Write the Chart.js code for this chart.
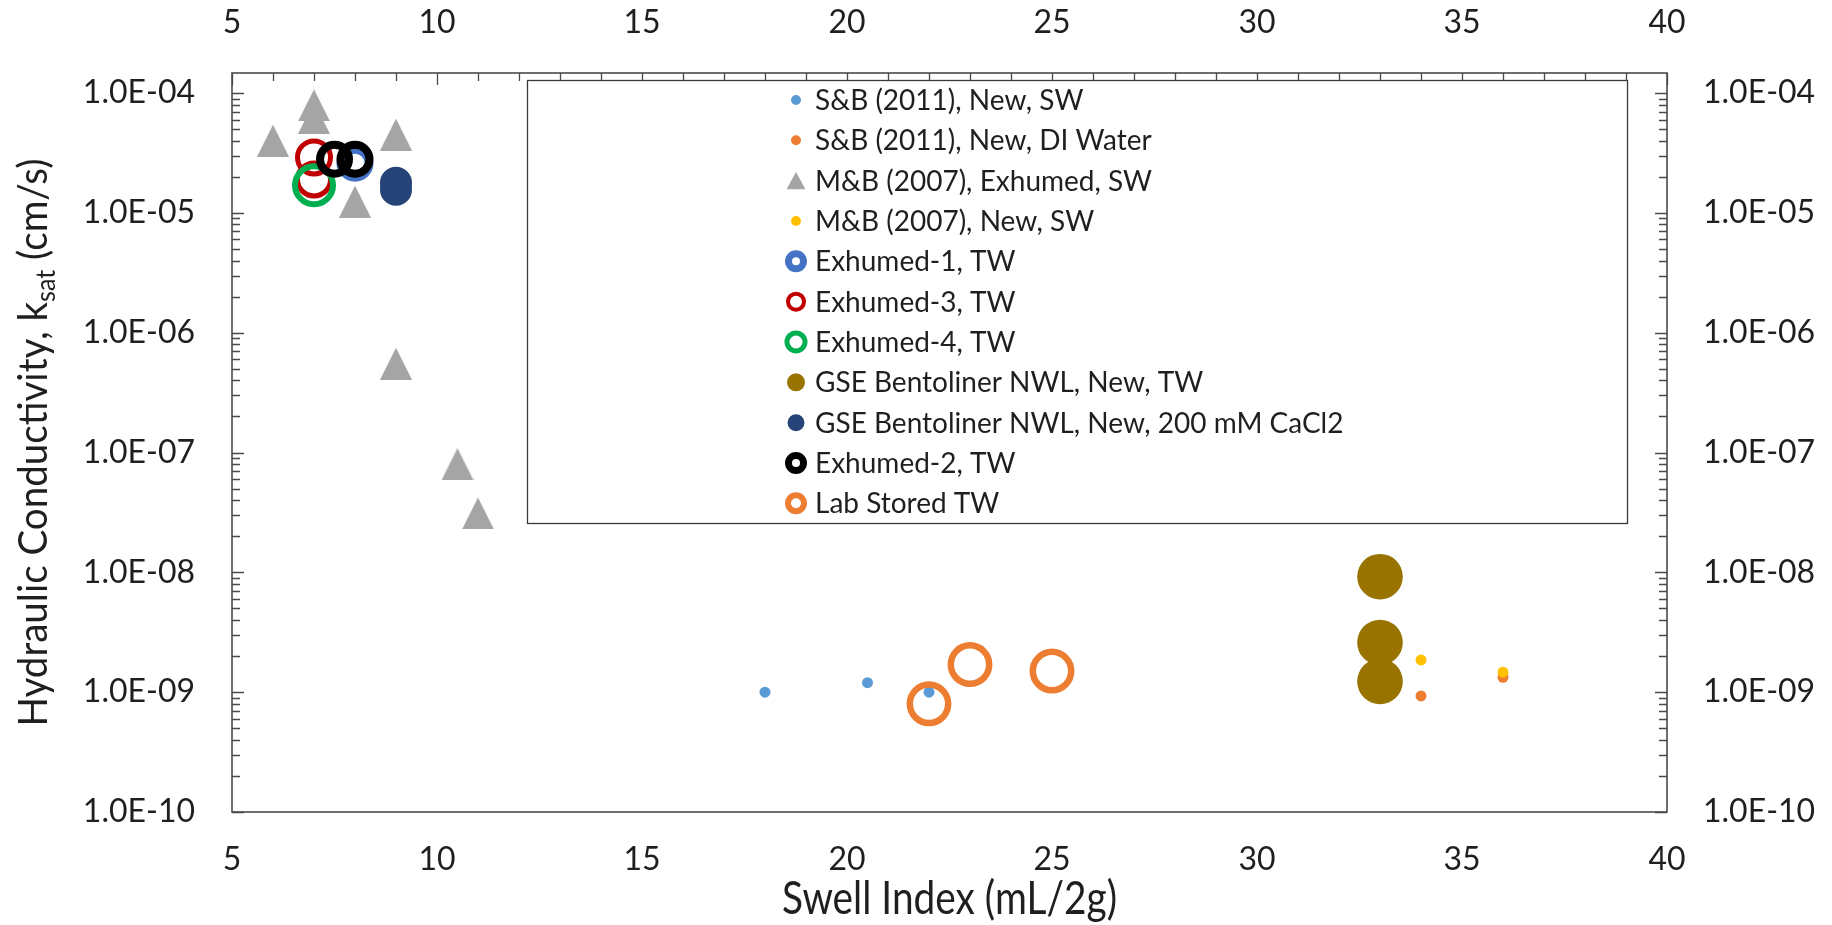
<!DOCTYPE html>
<html>
<head>
<meta charset="utf-8">
<title>Swell Index vs Hydraulic Conductivity</title>
<script src="https://cdn.jsdelivr.net/npm/chart.js@4.4.1/dist/chart.umd.min.js"></script>
<style>
  html, body { margin: 0; padding: 0; background: #fff; }
  #wrap { width: 1832px; height: 925px; }
</style>
</head>
<body>
<div id="wrap"><canvas id="chart" width="1832" height="925"></canvas></div>
<script>
// ── Data ──────────────────────────────────────────────────────────────
// Swell index (mL/2g) against saturated hydraulic conductivity (cm/s).
const xTicks = [5, 10, 15, 20, 25, 30, 35, 40];
const kTicks = [1e-10, 1e-9, 1e-8, 1e-7, 1e-6, 1e-5, 1e-4];

const sbSwX = [18, 20.5, 22];
const sbSwK = [1.0e-9, 1.2e-9, 1.0e-9];

const sbDiX = [34, 36];
const sbDiK = [9.3e-10, 1.33e-9];

const mbExhX = [6, 7, 7, 8, 9, 9, 10.5, 11];
const mbExhK = [4.0e-5, 7.9e-5, 6.2e-5, 1.24e-5, 4.5e-5, 5.5e-7, 8.0e-8, 3.1e-8];

const mbNewX = [34, 36];
const mbNewK = [1.86e-9, 1.47e-9];

const exh1X = [8];
const exh1K = [2.6e-5];

const exh3X = [7, 7];
const exh3K = [2.9e-5, 1.9e-5];

const exh4X = [7];
const exh4K = [1.7e-5];

const gseTwX = [33, 33, 33];
const gseTwK = [9.2e-9, 2.6e-9, 1.23e-9];

const gseCaX = [9, 9];
const gseCaK = [1.78e-5, 1.56e-5];

const exh2X = [7.5, 8];
const exh2K = [2.8e-5, 2.8e-5];

const labX = [22, 23, 25];
const labK = [8.0e-10, 1.7e-9, 1.5e-9];

// ── Series styling ────────────────────────────────────────────────────
// r / bw = marker radius and ring width on the plot, lr / lbw = in the legend
const series = [
  { name: "S&B (2011), New, SW", x: sbSwX, k: sbSwK, color: "#5B9BD5", filled: true, r: 5.5, lr: 5 },
  { name: "S&B (2011), New, DI Water", x: sbDiX, k: sbDiK, color: "#ED7D31", filled: true, r: 5.5, lr: 5 },
  { name: "M&B (2007), Exhumed, SW", x: mbExhX, k: mbExhK, color: "#A5A5A5", triangle: true, r: 16, lr: 9 },
  { name: "M&B (2007), New, SW", x: mbNewX, k: mbNewK, color: "#FFC000", filled: true, r: 5.5, lr: 5 },
  { name: "Exhumed-1, TW", x: exh1X, k: exh1K, color: "#4472C4", r: 14, bw: 9, lr: 7.5, lbw: 7 },
  { name: "Exhumed-3, TW", x: exh3X, k: exh3K, color: "#C00000", r: 16.5, bw: 5, lr: 8, lbw: 4 },
  { name: "Exhumed-4, TW", x: exh4X, k: exh4K, color: "#00B050", r: 19, bw: 6, lr: 9, lbw: 5 },
  { name: "GSE Bentoliner NWL, New, TW", x: gseTwX, k: gseTwK, color: "#997300", filled: true, r: 22.8, lr: 9 },
  { name: "GSE Bentoliner NWL, New, 200 mM CaCl2", x: gseCaX, k: gseCaK, color: "#264478", filled: true, r: 16, lr: 8.5 },
  { name: "Exhumed-2, TW", x: exh2X, k: exh2K, color: "#000000", r: 14.5, bw: 8, lr: 7.5, lbw: 7 },
  { name: "Lab Stored TW", x: labX, k: labK, color: "#ED7D31", r: 19.2, bw: 6.5, lr: 8, lbw: 6 },
];

const FONT = "Lato";
const INK = "#1f1f1f";

function triangleMarker(w, h, color) {
  const c = document.createElement("canvas");
  c.width = w;
  c.height = h;
  const g = c.getContext("2d");
  g.fillStyle = color;
  g.beginPath();
  g.moveTo(w / 2, 0);
  g.lineTo(w, h);
  g.lineTo(0, h);
  g.closePath();
  g.fill();
  return c;
}

// 1e-5 -> "1.0E-05"
function sci(v) {
  const [m, e] = v.toExponential(1).split("e");
  const n = Number(e);
  return m + "E" + (n < 0 ? "-" : "+") + String(Math.abs(n)).padStart(2, "0");
}

function drawMarker(ctx, s, x, y, r, bw) {
  ctx.save();
  if (s.triangle) {
    const w = r * 2.1, h = r * 1.9;
    ctx.fillStyle = s.color;
    ctx.beginPath();
    ctx.moveTo(x, y - h / 2);
    ctx.lineTo(x + w / 2, y + h / 2);
    ctx.lineTo(x - w / 2, y + h / 2);
    ctx.closePath();
    ctx.fill();
  } else if (s.filled) {
    ctx.fillStyle = s.color;
    ctx.beginPath();
    ctx.arc(x, y, r, 0, Math.PI * 2);
    ctx.fill();
  } else {
    ctx.strokeStyle = s.color;
    ctx.lineWidth = bw;
    ctx.beginPath();
    ctx.arc(x, y, r, 0, Math.PI * 2);
    ctx.stroke();
  }
  ctx.restore();
}

// ── Plot frame and inward ticks (log minors on both sides, units on top)
const framePlugin = {
  id: "frame",
  beforeDatasetsDraw(chart) {
    const { ctx, chartArea: a, scales } = chart;
    ctx.save();
    ctx.strokeStyle = "#4a4a4a";
    ctx.lineWidth = 1.3;
    ctx.beginPath();
    const ys = scales.y;
    kTicks.forEach((v) => {
      for (let m = 1; m <= 9; m++) {
        const val = v * m;
        if (val > ys.max) break;
        const py = Math.round(ys.getPixelForValue(val)) + 0.5;
        const len = m === 1 ? 12 : 8;
        ctx.moveTo(a.left, py);
        ctx.lineTo(a.left + len, py);
        ctx.moveTo(a.right, py);
        ctx.lineTo(a.right - len, py);
      }
    });
    const xs = scales.x2;
    for (let v = xs.min; v <= xs.max; v++) {
      const px = Math.round(xs.getPixelForValue(v)) + 0.5;
      ctx.moveTo(px, a.top);
      ctx.lineTo(px, a.top + (v % 5 === 0 ? 12 : 8));
    }
    ctx.stroke();
    ctx.lineWidth = 1.6;
    ctx.strokeRect(a.left, a.top, a.right - a.left, a.bottom - a.top);
    ctx.restore();
  },
};

// ── Boxed legend inside the plot area ─────────────────────────────────
const legendPlugin = {
  id: "boxLegend",
  afterDatasetsDraw(chart) {
    const { ctx } = chart;
    const box = { left: 527, top: 80, right: 1627, bottom: 523 };
    ctx.save();
    ctx.fillStyle = "#fff";
    ctx.fillRect(box.left, box.top, box.right - box.left, box.bottom - box.top);
    ctx.strokeStyle = "#3a3a3a";
    ctx.lineWidth = 1.3;
    ctx.strokeRect(box.left + 0.5, box.top + 0.5, box.right - box.left, box.bottom - box.top);
    ctx.font = "28px " + FONT;
    ctx.fillStyle = INK;
    ctx.textBaseline = "middle";
    ctx.textAlign = "left";
    series.forEach((s, i) => {
      const y = 100 + i * 40.33;
      drawMarker(ctx, s, 796, y, s.lr, s.lbw);
      ctx.fillStyle = INK;
      ctx.fillText(s.name, 815, y + 1);
    });
    ctx.restore();
  },
};

// ── Axis titles (condensed, y title carries the "sat" subscript) ──────
const titlePlugin = {
  id: "axisTitles",
  afterDraw(chart) {
    const { ctx, chartArea: a } = chart;
    ctx.save();
    ctx.fillStyle = INK;
    ctx.textBaseline = "alphabetic";

    // x title
    const xt = "Swell Index (mL/2g)";
    ctx.font = "46px " + FONT;
    const xw = ctx.measureText(xt).width;
    ctx.translate((a.left + a.right) / 2, 914);
    ctx.scale(335 / xw, 1);
    ctx.textAlign = "center";
    ctx.fillText(xt, 0, 0);
    ctx.restore();

    // y title
    ctx.save();
    ctx.fillStyle = INK;
    ctx.textBaseline = "alphabetic";
    ctx.textAlign = "left";
    const main = "Hydraulic Conductivity, k";
    const sub = "sat";
    const tail = " (cm/s)";
    const big = "40px " + FONT, small = "26px " + FONT;
    ctx.font = big;
    const w1 = ctx.measureText(main).width;
    const w3 = ctx.measureText(tail).width;
    ctx.font = small;
    const w2 = ctx.measureText(sub).width;
    const total = w1 + w2 + w3;
    ctx.translate(46.7, (a.top + a.bottom) / 2);
    ctx.rotate(-Math.PI / 2);
    ctx.scale(568 / total, 1);
    let x = -total / 2;
    ctx.font = big;
    ctx.fillText(main, x, 0);
    x += w1;
    ctx.font = small;
    ctx.fillText(sub, x, 8);
    x += w2;
    ctx.font = big;
    ctx.fillText(tail, x, 0);
    ctx.restore();
  },
};

function init() {
  const tickFont = { family: FONT, size: 32 };
  const datasets = series.map((s, i) => ({
    label: s.name,
    data: s.x.map((x, j) => ({ x, y: s.k[j] })),
    order: series.length - i,
    showLine: false,
    pointStyle: s.triangle ? triangleMarker(32, 32, s.color) : "circle",
    pointRadius: s.r,
    pointBorderWidth: s.filled || s.triangle ? 0 : s.bw,
    pointBackgroundColor: s.filled ? s.color : "rgba(0,0,0,0)",
    pointBorderColor: s.color,
  }));

  const logAxis = (position, width, padding) => ({
    type: "logarithmic",
    position,
    min: 1e-10,
    max: 1.47e-4,
    grid: { display: false, drawTicks: false },
    border: { display: false },
    afterBuildTicks: (scale) => {
      scale.ticks = kTicks.map((value) => ({ value }));
    },
    afterFit: (scale) => {
      scale.width = width;
    },
    ticks: {
      font: tickFont,
      color: INK,
      padding,
      autoSkip: false,
      callback: (v) => sci(v),
    },
  });

  const linAxis = (position, height, padding) => ({
    type: "linear",
    position,
    min: 5,
    max: 40,
    grid: { display: false, drawTicks: false },
    border: { display: false },
    afterBuildTicks: (scale) => {
      scale.ticks = xTicks.map((value) => ({ value }));
    },
    afterFit: (scale) => {
      scale.height = height;
    },
    ticks: {
      font: tickFont,
      color: INK,
      padding,
      autoSkip: false,
      maxRotation: 0,
    },
  });

  new Chart(document.getElementById("chart"), {
    type: "scatter",
    data: { datasets },
    options: {
      responsive: false,
      animation: false,
      devicePixelRatio: 1,
      events: [],
      layout: { padding: 0 },
      plugins: {
        legend: { display: false },
        tooltip: { enabled: false },
      },
      scales: {
        x: linAxis("bottom", 113, 28),
        x2: linAxis("top", 73, 31),
        y: logAxis("left", 232, 37),
        y2: logAxis("right", 165, 36),
      },
    },
    plugins: [framePlugin, legendPlugin, titlePlugin],
  });
}

document.fonts.load("32px " + FONT).then(init, init);
</script>
</body>
</html>
